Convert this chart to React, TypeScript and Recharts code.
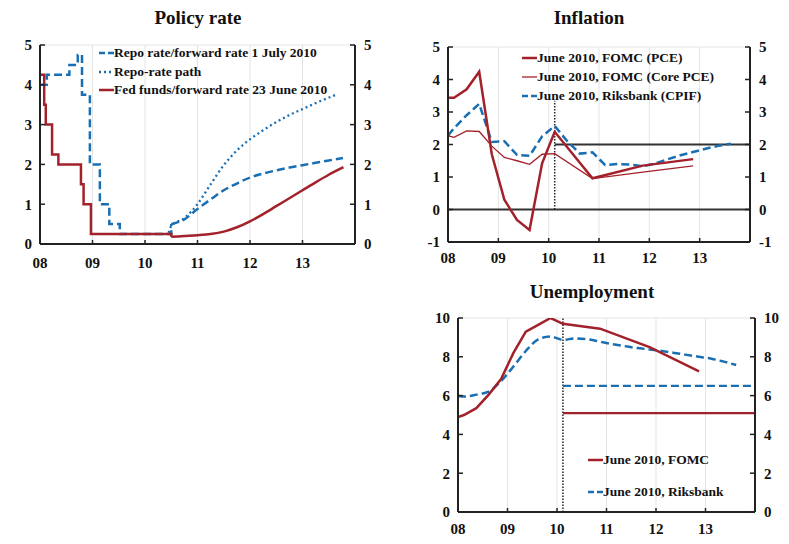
import React from "react";
import { LineChart, Line, XAxis, YAxis, CartesianGrid, ReferenceLine } from "recharts";

const RED = "#a3212a";
const BLUE = "#1a6fb3";
const FONT = "'Liberation Serif', 'Times New Roman', serif";

// x positions are decimal years
const xTicks = [2008, 2009, 2010, 2011, 2012, 2013];
const xTickLabels = ["08", "09", "10", "11", "12", "13"];
const policyTicks = [0, 1, 2, 3, 4, 5];
const inflationTicks = [-1, 0, 1, 2, 3, 4, 5];
const unemploymentTicks = [0, 2, 4, 6, 8, 10];

// Policy rate
const repoHist = [
  [2008.0, 4.0], [2008.13, 4.25], [2008.56, 4.5], [2008.72, 4.75], [2008.8, 3.75],
  [2008.95, 2.0], [2009.14, 1.0], [2009.32, 0.5], [2009.52, 0.25], [2010.5, 0.5],
];
const repoForward = [
  [2010.5, 0.5], [2010.75, 0.62], [2011.0, 0.88], [2011.25, 1.12], [2011.5, 1.35],
  [2011.75, 1.52], [2012.0, 1.67], [2012.25, 1.77], [2012.5, 1.85], [2012.75, 1.92],
  [2013.0, 1.98], [2013.25, 2.04], [2013.5, 2.1], [2013.77, 2.16],
];
const repoPath = [
  [2010.45, 0.28], [2010.5, 0.45], [2010.75, 0.65], [2011.0, 1.0], [2011.25, 1.5],
  [2011.5, 1.98], [2011.75, 2.35], [2012.0, 2.63], [2012.25, 2.86], [2012.5, 3.06],
  [2012.75, 3.24], [2013.0, 3.39], [2013.25, 3.54], [2013.62, 3.74],
];
const fedHist = [
  [2008.0, 4.25], [2008.08, 3.5], [2008.11, 3.0], [2008.23, 2.25], [2008.35, 2.0],
  [2008.78, 1.5], [2008.83, 1.0], [2008.97, 0.25], [2010.5, 0.18],
];
const fedForward = [
  [2010.5, 0.18], [2010.75, 0.2], [2011.0, 0.22], [2011.25, 0.25], [2011.5, 0.31],
  [2011.75, 0.42], [2012.0, 0.57], [2012.25, 0.75], [2012.5, 0.95], [2012.75, 1.15],
  [2013.0, 1.35], [2013.25, 1.55], [2013.5, 1.74], [2013.78, 1.93],
];

// Inflation
const pce = [
  [2008.0, 3.44], [2008.12, 3.44], [2008.37, 3.7], [2008.62, 4.24], [2008.87, 1.7],
  [2009.12, 0.3], [2009.37, -0.32], [2009.62, -0.63], [2009.87, 1.42], [2010.12, 2.39],
  [2010.87, 0.96], [2011.87, 1.35], [2012.87, 1.55],
];
const corePce = [
  [2008.0, 2.27], [2008.12, 2.22], [2008.37, 2.42], [2008.62, 2.4], [2008.87, 1.95],
  [2009.12, 1.6], [2009.37, 1.5], [2009.62, 1.39], [2009.87, 1.7], [2010.12, 1.72],
  [2010.87, 0.95], [2011.87, 1.15], [2012.87, 1.34],
];
const cpif = [
  [2008.0, 2.28], [2008.12, 2.5], [2008.37, 2.9], [2008.62, 3.25], [2008.87, 2.08],
  [2009.12, 2.1], [2009.37, 1.68], [2009.62, 1.65], [2009.87, 2.25], [2010.12, 2.57],
  [2010.37, 2.1], [2010.62, 1.72], [2010.87, 1.76], [2011.12, 1.37], [2011.37, 1.4],
  [2011.62, 1.38], [2011.87, 1.33], [2012.12, 1.42], [2012.37, 1.55], [2012.62, 1.67],
  [2012.87, 1.77], [2013.12, 1.87], [2013.37, 1.96], [2013.62, 2.02],
];

// Unemployment
const fomcU = [
  [2008.0, 4.9], [2008.12, 5.0], [2008.37, 5.35], [2008.62, 6.05], [2008.87, 6.85],
  [2009.12, 8.2], [2009.37, 9.3], [2009.62, 9.65], [2009.87, 10.0], [2010.12, 9.7],
  [2010.87, 9.45], [2011.87, 8.5], [2012.87, 7.25],
];
const riksU = [
  [2008.0, 6.0], [2008.12, 5.95], [2008.37, 6.05], [2008.62, 6.2], [2008.87, 6.75],
  [2009.12, 7.5], [2009.37, 8.3], [2009.62, 8.9], [2009.87, 9.05], [2010.12, 8.87],
  [2010.37, 8.95], [2010.62, 8.9], [2010.87, 8.78], [2011.12, 8.65], [2011.37, 8.55],
  [2011.62, 8.45], [2011.87, 8.38], [2012.12, 8.3], [2012.37, 8.2], [2012.62, 8.1],
  [2012.87, 8.0], [2013.12, 7.9], [2013.37, 7.75], [2013.62, 7.58],
];

// forecast start and long-run levels
const forecastStart = 2010.12;
const inflationTarget = 2;
const fomcLongRunU = 5.1;
const riksLongRunU = 6.5;

const pts = (arr: number[][]) => arr.map(([x, v]) => ({ x, v }));

const tickStyle = { fontFamily: FONT, fontSize: 15, fontWeight: 700, fill: "#111" };
const axisLine = { stroke: "#222", strokeWidth: 2 };

function axes(yDomain: number[], yTicks: number[], xMargin: number) {
  return [
    <CartesianGrid key="g" stroke="#e4e4e4" strokeWidth={1} />,
    <XAxis
      key="x"
      type="number"
      dataKey="x"
      domain={[2008, 2014]}
      ticks={xTicks}
      tickFormatter={(t: number) => xTickLabels[xTicks.indexOf(t)]}
      axisLine={axisLine}
      tickLine={{ stroke: "#222", strokeWidth: 1.5 }}
      tickSize={-4}
      tickMargin={xMargin}
      tick={tickStyle}
      height={30}
      allowDataOverflow
    />,
    <YAxis
      key="yl"
      yAxisId="l"
      domain={yDomain}
      ticks={yTicks}
      axisLine={axisLine}
      tickLine={{ stroke: "#222", strokeWidth: 1.5 }}
      tickSize={-5}
      tickMargin={13}
      tick={tickStyle}
      width={30}
      allowDataOverflow
    />,
    <YAxis
      key="yr"
      yAxisId="r"
      orientation="right"
      domain={yDomain}
      ticks={yTicks}
      axisLine={axisLine}
      tickLine={{ stroke: "#222", strokeWidth: 1.5 }}
      tickSize={-5}
      tickMargin={14}
      tick={{ ...tickStyle, textAnchor: "start" }}
      width={30}
      allowDataOverflow
    />,
  ];
}

function Title({ x, y, text }: { x: number; y: number; text: string }) {
  return (
    <div
      style={{
        position: "absolute", left: x - 150, top: y - 12, width: 300, textAlign: "center",
        fontFamily: FONT, fontWeight: 700, fontSize: 19, lineHeight: "24px", color: "#111",
      }}
    >
      {text}
    </div>
  );
}

type LegendItem = { label: string; color: string; width: number; dash?: string };

function Legend({ x, y, gap, items }: { x: number; y: number; gap: number; items: LegendItem[] }) {
  return (
    <div style={{ position: "absolute", left: x, top: y }}>
      {items.map((it, i) => (
        <div
          key={it.label}
          style={{ position: "absolute", top: i * gap - 9, left: 0, display: "flex", alignItems: "center", whiteSpace: "nowrap" }}
        >
          <svg width={15} height={18}>
            <line x1={0} y1={9} x2={15} y2={9} stroke={it.color} strokeWidth={it.width} strokeDasharray={it.dash} />
          </svg>
          <span style={{ fontFamily: FONT, fontWeight: 700, fontSize: 13.5, lineHeight: "18px", color: "#111" }}>{it.label}</span>
        </div>
      ))}
    </div>
  );
}

export default function App() {
  return (
    <div style={{ position: "absolute", left: 0, top: 0, width: 789, height: 544, background: "#fff" }}>
      <Title x={198} y={18} text="Policy rate" />
      <Title x={589} y={18} text="Inflation" />
      <Title x={592} y={292} text="Unemployment" />

      <div style={{ position: "absolute", left: 0, top: 0 }}>
        <LineChart width={395} height={280} margin={{ top: 45, right: 10, bottom: 6, left: 10 }}>
          {axes([0, 5], policyTicks, 17)}
          <Line yAxisId="l" data={pts(repoPath)} dataKey="v" type="monotone" stroke={BLUE} strokeWidth={2.3} strokeDasharray="2 3" dot={false} isAnimationActive={false} />
          <Line yAxisId="l" data={pts(repoHist)} dataKey="v" type="stepAfter" stroke={BLUE} strokeWidth={2.5} strokeDasharray="8 4" dot={false} isAnimationActive={false} />
          <Line yAxisId="l" data={pts(repoForward)} dataKey="v" type="monotone" stroke={BLUE} strokeWidth={2.5} strokeDasharray="8 4" dot={false} isAnimationActive={false} />
          <Line yAxisId="l" data={pts(fedHist)} dataKey="v" type="stepAfter" stroke={RED} strokeWidth={2.5} dot={false} isAnimationActive={false} />
          <Line yAxisId="l" data={pts(fedForward)} dataKey="v" type="monotone" stroke={RED} strokeWidth={2.5} dot={false} isAnimationActive={false} />
        </LineChart>
      </div>

      <div style={{ position: "absolute", left: 395, top: 0 }}>
        <LineChart width={394} height={280} margin={{ top: 47, right: 9, bottom: 8, left: 23 }}>
          {axes([-1, 5], inflationTicks, 14)}
          <ReferenceLine yAxisId="l" y={0} stroke="#333" strokeWidth={2} />
          <ReferenceLine yAxisId="l" segment={[{ x: forecastStart, y: inflationTarget }, { x: 2014, y: inflationTarget }]} stroke="#333" strokeWidth={2} />
          <ReferenceLine yAxisId="l" segment={[{ x: forecastStart, y: 0 }, { x: forecastStart, y: 3.35 }]} stroke="#222" strokeWidth={1.5} strokeDasharray="1.5 1.5" />
          <Line yAxisId="l" data={pts(cpif)} dataKey="v" type="linear" stroke={BLUE} strokeWidth={2.5} strokeDasharray="8 4" dot={false} isAnimationActive={false} />
          <Line yAxisId="l" data={pts(corePce)} dataKey="v" type="linear" stroke={RED} strokeWidth={1.3} dot={false} isAnimationActive={false} />
          <Line yAxisId="l" data={pts(pce)} dataKey="v" type="linear" stroke={RED} strokeWidth={2.5} dot={false} isAnimationActive={false} />
        </LineChart>
      </div>

      <div style={{ position: "absolute", left: 395, top: 280 }}>
        <LineChart width={394} height={264} margin={{ top: 38, right: 4, bottom: 2, left: 33 }}>
          {axes([0, 10], unemploymentTicks, 15)}
          <ReferenceLine yAxisId="l" x={forecastStart} stroke="#222" strokeWidth={1.5} strokeDasharray="1.5 1.5" />
          <ReferenceLine yAxisId="l" segment={[{ x: forecastStart, y: riksLongRunU }, { x: 2014, y: riksLongRunU }]} stroke={BLUE} strokeWidth={2.2} strokeDasharray="8 4" />
          <ReferenceLine yAxisId="l" segment={[{ x: forecastStart, y: fomcLongRunU }, { x: 2014, y: fomcLongRunU }]} stroke={RED} strokeWidth={2.2} />
          <Line yAxisId="l" data={pts(riksU)} dataKey="v" type="monotone" stroke={BLUE} strokeWidth={2.5} strokeDasharray="8 4" dot={false} isAnimationActive={false} />
          <Line yAxisId="l" data={pts(fomcU)} dataKey="v" type="linear" stroke={RED} strokeWidth={2.5} dot={false} isAnimationActive={false} />
        </LineChart>
      </div>

      <Legend
        x={99}
        y={53}
        gap={18.5}
        items={[
          { label: "Repo rate/forward rate 1 July 2010", color: BLUE, width: 2.5, dash: "6 3" },
          { label: "Repo-rate path", color: BLUE, width: 2.3, dash: "2 3" },
          { label: "Fed funds/forward rate 23 June 2010", color: RED, width: 2.5 },
        ]}
      />
      <Legend
        x={522}
        y={58}
        gap={19.2}
        items={[
          { label: "June 2010, FOMC (PCE)", color: RED, width: 2.5 },
          { label: "June 2010, FOMC (Core PCE)", color: RED, width: 1.3 },
          { label: "June 2010, Riksbank (CPIF)", color: BLUE, width: 2.5, dash: "6 3" },
        ]}
      />
      <Legend
        x={588}
        y={460}
        gap={32}
        items={[
          { label: "June 2010, FOMC", color: RED, width: 2.5 },
          { label: "June 2010, Riksbank", color: BLUE, width: 2.5, dash: "6 3" },
        ]}
      />
    </div>
  );
}
